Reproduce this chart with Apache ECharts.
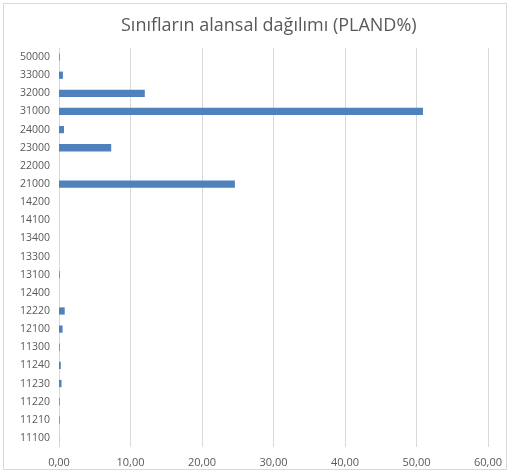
<!DOCTYPE html>
<html>
<head>
<meta charset="utf-8">
<script src="https://cdn.jsdelivr.net/npm/echarts@6/dist/echarts.min.js"></script>
<style>
  html, body { margin: 0; padding: 0; background: #fff; }
  #frame { position: absolute; left: 3px; top: 3px; width: 504px; height: 467px; border: 1px solid #d9d9d9; box-sizing: border-box; }
  #chart { width: 512px; height: 475px; }
</style>
</head>
<body>
<div id="frame"></div>
<div id="chart"></div>
<script>
// sınıf kodları (alttan üste)
const classes = ['11100', '11210', '11220', '11230', '11240', '11300', '12100', '12220', '12400',
  '13100', '13300', '13400', '14100', '14200', '21000', '22000', '23000', '24000', '31000',
  '32000', '33000', '50000']
const pland = [0.02, 0.1, 0.1, 0.35, 0.25, 0.1, 0.5, 0.8, 0, 0.1, 0, 0, 0, 0, 24.6, 0, 7.3,
  0.7, 50.9, 12.0, 0.55, 0.1]
const title = 'Sınıfların alansal dağılımı (PLAND%)'

const chart = echarts.init(document.getElementById('chart'))
chart.setOption({
  animation: false,
  title: {
    text: title,
    left: 116,
    top: 12,
    textStyle: { fontFamily: 'Open Sans', fontSize: 18, fontWeight: 'normal', color: '#595959' },
  },
  grid: { left: 59, right: 24, top: 48, bottom: 28 },
  xAxis: {
    type: 'value',
    min: 0,
    max: 60,
    interval: 10,
    axisLine: { show: false },
    axisTick: { show: false },
    splitLine: { lineStyle: { color: '#d9d9d9', width: 1 } },
    axisLabel: {
      fontFamily: 'Open Sans', fontSize: 11, color: '#595959', margin: 10,
      formatter: (v) => v.toFixed(2).replace('.', ','),
    },
  },
  yAxis: {
    type: 'category',
    data: classes,
    axisLine: { show: true, lineStyle: { color: '#d9d9d9' } },
    axisTick: { show: false },
    axisLabel: { fontFamily: 'Open Sans', fontSize: 10.5, color: '#595959', margin: 9 },
  },
  series: [
    {
      type: 'bar',
      data: pland,
      barWidth: '40%',
      itemStyle: { color: '#4f81bd' },
    },
  ],
})
</script>
</body>
</html>
